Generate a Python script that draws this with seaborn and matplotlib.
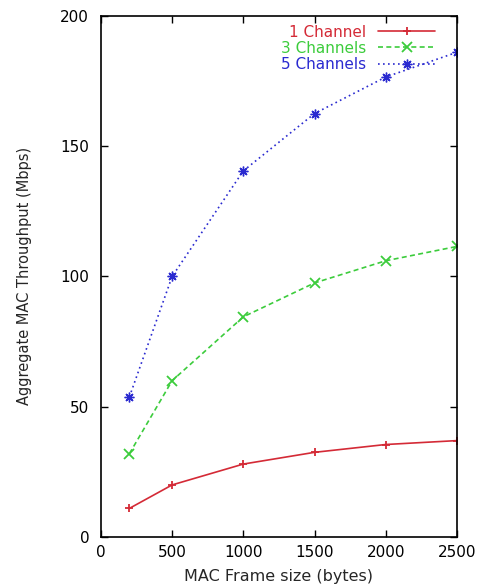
import matplotlib
matplotlib.use("Agg")
import matplotlib.pyplot as plt
import seaborn as sns
import pandas as pd

frame_sizes = [200, 500, 1000, 1500, 2000, 2500]
ch1 = [11, 20, 28, 32.5, 35.5, 37]
ch3 = [32, 60, 84.5, 97.5, 106, 111.5]
ch5 = [53.8, 100, 140.5, 162.5, 176.5, 186]
labels = ["1 Channel", "3 Channels", "5 Channels"]
x_ticks = [0, 500, 1000, 1500, 2000, 2500]
y_ticks = [0, 50, 100, 150, 200]

sns.set_style("ticks")
plt.rcParams['font.family'] = ['DejaVu Sans']

fig, ax = plt.subplots(figsize=(4.83, 5.85), dpi=100)
fig.subplots_adjust(left=0.209, right=0.946, top=0.973, bottom=0.082)

colors = ["#d42a36", "#3ccc3c", "#2a2ad0"]
styles = ["-", (0, (3, 2)), (0, (1, 2))]
markers = ["+", "x", (8, 2, 0)]
msizes = [6, 7, 7]
mews = [1.3, 1.3, 1.0]
series = [ch1, ch3, ch5]

for lab, vals, c, ls, m, ms, mw in zip(labels, series, colors, styles, markers, msizes, mews):
    df = pd.DataFrame({"x": frame_sizes, "y": vals})
    sns.lineplot(data=df, x="x", y="y", ax=ax, color=c, linestyle=ls,
                 marker=m, markersize=ms, markeredgewidth=mw,
                 markeredgecolor=c, linewidth=1.2, label=lab)

ax.set_xlim(0, 2500)
ax.set_ylim(0, 200)
ax.set_xticks(x_ticks)
ax.set_yticks(y_ticks)
ax.tick_params(direction="in", length=5, width=1, top=True, right=True,
               labelsize=11, colors="black")
ax.tick_params(axis="y", pad=8.5)
ax.tick_params(axis="x", pad=6)
for s in ax.spines.values():
    s.set_linewidth(1.2)
    s.set_color("black")
ax.set_xlabel("MAC Frame size (bytes)", fontsize=11.5, labelpad=6)
ax.set_ylabel("Aggregate MAC Throughput (Mbps)", fontsize=10.5, labelpad=20)

leg = ax.legend(loc="upper right", frameon=False, markerfirst=False,
                handlelength=3.7, labelspacing=0.08, fontsize=11,
                borderaxespad=0.2, handletextpad=0.8, borderpad=0.2,
                bbox_to_anchor=(0.955, 0.995))
for t, c in zip(leg.get_texts(), colors):
    t.set_color(c)

fig.savefig("out.png", dpi=100)
